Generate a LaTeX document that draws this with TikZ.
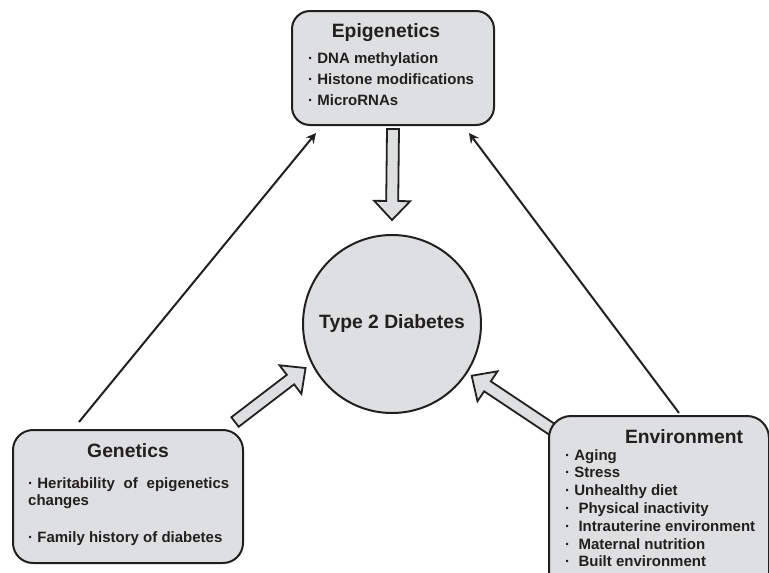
\documentclass[tikz,border=0pt]{standalone}
\usepackage{fontspec}
\setmainfont{Liberation Sans}
\usetikzlibrary{calc, backgrounds, arrows.meta}
\definecolor{ink}{RGB}{35,31,32}
\definecolor{boxgray}{RGB}{222,223,224}
\newcommand\fatarrow[2]{%
  \coordinate (fa-c) at ($(#2)!19pt!(#1)$);
  \draw[fatarr] ($(#1)!6pt!90:(#2)$) -- ($(fa-c)!6pt!-90:(#1)$)
    -- ($(fa-c)!18pt!-90:(#1)$) -- (#2) -- ($(fa-c)!18pt!90:(#1)$)
    -- ($(fa-c)!6pt!90:(#1)$) -- ($(#1)!6pt!-90:(#2)$) -- cycle;
}

\begin{document}
\begin{tikzpicture}[
        x=1pt, y=-1pt,
        box/.style={draw=ink, fill=boxgray, line width=2pt, rounded corners=#1},
        box/.default=18pt,
        head/.style={font=\fontsize{19.3}{23}\selectfont\bfseries, text=ink, anchor=base, inner sep=0pt},
        items/.style={font=\fontsize{15}{#1}\selectfont\bfseries, text=ink, align=left, anchor=north west, inner sep=0pt},
        fatarr/.style={draw=ink, fill=boxgray, line width=1.8pt, line join=miter},
        thinarr/.style={draw=ink, line width=2pt, -{Stealth[length=10pt, width=10pt, inset=3.5pt]}}
      ]
      \useasboundingbox (0,0) rectangle (769,573);
      \clip (0,0) rectangle (769,573);

      \node[box, minimum width=202pt, minimum height=114pt] (epi) at (393,68) {};
      \node[box=20pt, minimum width=230pt, minimum height=133pt] (gen) at (128,496.5) {};
      \node[box=22pt, minimum width=220pt, minimum height=190pt, anchor=north west] (env) at (548,415) {};
      \node[circle, draw=ink, fill=boxgray, line width=2pt, minimum size=178pt,
        font=\fontsize{19.3}{23}\selectfont\bfseries, text=ink] (t2d) at (392,324) {Type 2 Diabetes};

      % box texts
      \node[head] (epi-t) at (386,37) {Epigenetics};
      \node[items=21] (epi-l) at (308,48.3)
        {\strut· DNA methylation\\\strut· Histone modifications\\\strut· MicroRNAs};
      \node[head] (gen-t) at (128,457) {Genetics};
      \node[items=17] (gen-l) at (28,476.1)
        {\strut\hbox to 201pt{· Heritability\hfill of\hfill epigenetics}\\\strut changes\\[20pt]
         \strut· Family history of diabetes};
      \node[head] (env-t) at (684,443) {Environment};
      \node[items=17.8] (env-l) at (565,447.5)
        {\strut· Aging\\\strut· Stress\\\strut· Unhealthy diet\\\strut·\ \ Physical inactivity\\
         \strut·\ \ Intrauterine environment\\\strut·\ \ Maternal nutrition\\\strut·\ \ Built environment};

      \begin{scope}[on background layer]
        \draw[thinarr] ([xshift=-49pt, yshift=7pt]gen.north) -- ([xshift=-77pt, yshift=-7pt]epi.south);
        \draw[thinarr] ([xshift=20pt, yshift=2pt]env.north) -- ([xshift=76pt, yshift=-7pt]epi.south);

        \coordinate (d-base) at ([yshift=-3pt]epi.south);
        \coordinate (d-tip) at ([yshift=14pt]t2d.north);
        \coordinate (l-base) at ([xshift=-9pt, yshift=7pt]gen.north east);
        \coordinate (l-tip) at ([shift={(207:7pt)}]t2d.207);
        \coordinate (r-base) at ([xshift=5pt, yshift=-15pt]env.north west);
        \coordinate (r-tip) at ([shift={(327:5pt)}]t2d.327);
        \fatarrow{d-base}{d-tip}
        \fatarrow{l-base}{l-tip}
        \fatarrow{r-base}{r-tip}
      \end{scope}
    \end{tikzpicture}
\end{document}
